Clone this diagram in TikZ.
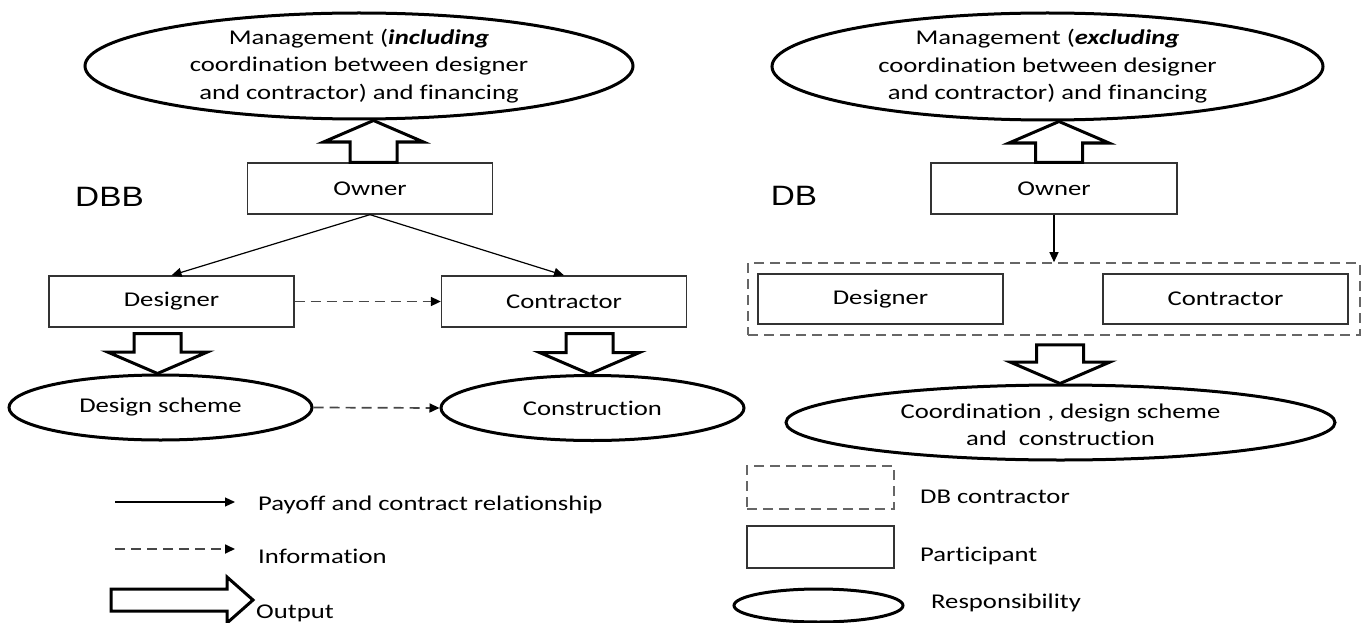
\documentclass[tikz,border=0pt]{standalone}
\usepackage{fontspec}
\setmainfont{Carlito}[FakeStretch=1.27,RawFeature={-liga}]
\newfontfamily\arialf{Liberation Sans}[FakeStretch=1.19]
\usetikzlibrary{shapes.geometric,arrows.meta,calc}
\newcommand\vblock[3]{%
  \draw[blk] let \p1=(#1), \p2=(#2) in
    ({\x1-23.5pt},{\y1}) -- ({\x1-23.5pt},{\y2 #3 21.5pt}) -- ({\x1-50pt},{\y2 #3 21.5pt})
    -- ({\x1},{\y2}) -- ({\x1+50pt},{\y2 #3 21.5pt}) -- ({\x1+23.5pt},{\y2 #3 21.5pt})
    -- ({\x1+23.5pt},{\y1}) -- cycle;}
\begin{document}
\begin{tikzpicture}[x=1pt,y=-1pt,
  every node/.style={font=\fontsize{21}{27.5}\selectfont, text=black, inner sep=0pt},
  box/.style={draw=black!80, line width=1.3pt, minimum width=245pt, minimum height=51pt},
  resp/.style={ellipse, draw=black, line width=3pt, align=center},
  dbox/.style={draw=black!60, line width=1.6pt, dash pattern=on 10pt off 6pt},
  pay/.style={draw=black, line width=1.2pt, -{Triangle[length=10pt,width=9pt]}},
  info/.style={draw=black!72, line width=1.7pt, dash pattern=on 10pt off 6pt,
    -{Triangle[length=10pt,width=9pt,color=black]}},
  blk/.style={draw=black, line width=3pt, line join=miter, fill=white},
  lbl/.style={anchor=base west},
  big/.style={font=\arialf\fontsize{28}{30}\selectfont}
]
\useasboundingbox (0,0) rectangle (1362,623);

% ---------------- DBB ----------------
\node[resp, minimum width=548pt, minimum height=106pt] (topL) at (359,66)
  {Management (\textbf{\textit{including}}\\coordination between designer\\and contractor) and financing};
\node[box] (ownerL) at (370,188.5) {Owner};
\node[big] (dbb) at (109.5,197) {DBB};
\node[box] (designerL) at (171.5,301.5) {Designer};
\node[box] (contractorL) at (564,301.5) {Contractor};
\node[resp, minimum width=303pt, minimum height=65pt] (dsL) at (160.5,407.5) {Design scheme};
\node[resp, minimum width=303pt, minimum height=65pt] (conL) at (592.5,408) {Construction};

\vblock{$(ownerL.north)+(3.5,0)$}{topL.south}{-}
\vblock{$(designerL.south)+(-14,6)$}{dsL.north}{+}
\vblock{$(contractorL.south)+(25.5,6)$}{conL.north}{+}

\draw[pay] (ownerL.south) -- (designerL.north);
\draw[pay] (ownerL.south) -- (contractorL.north);
\draw[info] (designerL.east) -- (contractorL.west);
\draw[info] (dsL.east) -- (conL.west);

% legend left
\coordinate (pa) at (115,502);
\coordinate (pb) at (235,502);
\draw[pay] (pa) -- (pb);
\node[lbl] (lpay) at (258,510) {Payoff and contract relationship};
\coordinate (ia) at (115,549);
\coordinate (ib) at (235,549);
\draw[info] (ia) -- (ib);
\node[lbl] (linfo) at (258,563) {Information};
\draw[blk] (111,589) -- (227,589) -- (227,577) -- (253,600) -- (227,623) -- (227,611) -- (111,611) -- cycle;
\node[lbl] (lout) at (256,618) {Output};

% ---------------- DB ----------------
\node[resp, minimum width=551pt, minimum height=107pt] (topR) at (1047.5,66.5)
  {Management (\textbf{\textit{excluding}}\\coordination between designer\\and contractor) and financing};
\node[box, minimum width=246pt] (ownerR) at (1054,188.5) {Owner};
\node[big] (db) at (794,195.5) {DB};
\node[dbox, minimum width=612pt, minimum height=72pt] (dbc) at (1054,299) {};
\node[box, minimum height=50pt] (designerR) at (880.5,299) {Designer};
\node[box, minimum height=50pt] (contractorR) at (1225.5,299) {Contractor};
\node[resp, minimum width=549pt, minimum height=75pt] (coordR) at (1060.5,422.5)
  {\rule{0pt}{19pt}Coordination , design scheme\\and~ construction};

\vblock{$(ownerR.north)+(5,0)$}{topR.south}{-}
\vblock{$(dbc.south)+(6,9)$}{coordR.north}{+}
\draw[pay] (ownerR.south) -- (dbc.north);

% legend right
\node[dbox, minimum width=147pt, minimum height=43pt] (lgd) at (820.5,487.5) {};
\node[box, minimum width=147pt, minimum height=42pt] (lgp) at (820.5,547) {};
\node[resp, minimum width=169pt, minimum height=33pt] (lge) at (818.5,605.5) {};
\node[lbl] (tdbc) at (920,503) {DB contractor};
\node[lbl] (tpart) at (920,561) {Participant};
\node[lbl] (tresp) at (931,608) {Responsibility};
\end{tikzpicture}
\end{document}
